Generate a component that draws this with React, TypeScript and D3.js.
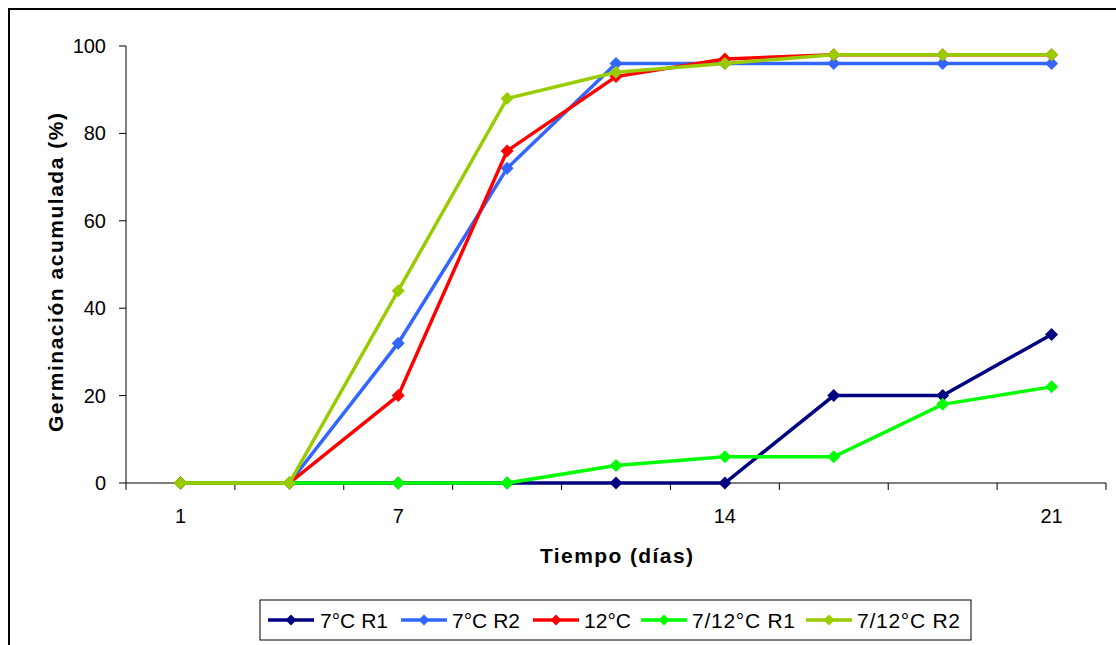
import React from "react";
import * as d3 from "d3";

const categories = ["1", "", "7", "", "", "14", "", "", "21"];
const r1_7 = [0, 0, 0, 0, 0, 0, 20, 20, 34];
const r2_7 = [0, 0, 32, 72, 96, 96, 96, 96, 96];
const c12 = [0, 0, 20, 76, 93, 97, 98, 98, 98];
const r1_712 = [0, 0, 0, 0, 4, 6, 6, 18, 22];
const r2_712 = [0, 0, 44, 88, 94, 96, 98, 98, 98];
const yTicks = [0, 20, 40, 60, 80, 100];

const seriesList = [
  { name: "7°C R1", values: r1_7, color: "#000080" },
  { name: "7°C R2", values: r2_7, color: "#3366FF" },
  { name: "12°C", values: c12, color: "#FF0000" },
  { name: "7/12°C R1", values: r1_712, color: "#00FF00" },
  { name: "7/12°C R2", values: r2_712, color: "#99CC00" },
];

const W = 1116, H = 645;
const left = 126, right = 1106, top = 46, bottom = 483;

export default function App() {
  const idx = categories.map((_, i) => i);
  const x = d3.scaleBand<number>().domain(idx).range([left, right]).paddingInner(0).paddingOuter(0);
  const cx = (i: number) => (x(i) as number) + x.bandwidth() / 2;
  const y = d3.scaleLinear().domain([0, 100]).range([bottom, top]);
  const line = d3.line<number>().x((_, i) => cx(i)).y((d) => y(d));
  const diamond = (px: number, py: number, s: number) =>
    `M${px},${py - s}L${px + s},${py}L${px},${py + s}L${px - s},${py}Z`;
  const font = "Arial, 'Liberation Sans', sans-serif";

  const boundaries = d3.range(categories.length + 1).map((i) =>
    i < categories.length ? (x(i) as number) : right
  );

  // legend layout
  const legX = 260, legY = 600, legW = 711, legH = 40;
  const legendItems = [
    { x: 268, tx: 320, tl: 68 },
    { x: 401, tx: 452, tl: 68 },
    { x: 533, tx: 584, tl: 47 },
    { x: 641, tx: 692, tl: 103 },
    { x: 806, tx: 857, tl: 103 },
  ];

  return (
    <svg width={W} height={H} style={{ position: "absolute", left: 0, top: 0, background: "#fff" }}>
      <rect x={0} y={0} width={W} height={H} fill="#fff" />
      <rect x={9} y={9} width={W + 20} height={H + 20} fill="none" stroke="#000" strokeWidth={2} />
      {/* axes */}
      <line x1={left} y1={top} x2={left} y2={bottom} stroke="#000" strokeWidth={1} />
      <line x1={left} y1={bottom} x2={right} y2={bottom} stroke="#000" strokeWidth={1} />
      {yTicks.map((t) => (
        <g key={t}>
          <line x1={left - 7} x2={left} y1={y(t)} y2={y(t)} stroke="#000" />
          <text x={106} y={y(t) + 7} textAnchor="end" fontFamily={font} fontSize={20}>
            {t}
          </text>
        </g>
      ))}
      {boundaries.map((b, i) => (
        <line key={i} x1={b} x2={b} y1={bottom} y2={bottom + 7} stroke="#000" />
      ))}
      {categories.map((c, i) =>
        c ? (
          <text key={i} x={cx(i)} y={523} textAnchor="middle" fontFamily={font} fontSize={20}>
            {c}
          </text>
        ) : null
      )}
      <text
        x={540}
        y={563}
        textLength={153}
        lengthAdjust="spacing"
        fontFamily={font}
        fontSize={21}
        fontWeight="bold"
      >
        Tiempo (días)
      </text>
      <text
        transform={`translate(63,432) rotate(-90)`}
        textLength={319}
        lengthAdjust="spacing"
        fontFamily={font}
        fontSize={21}
        fontWeight="bold"
      >
        Germinación acumulada (%)
      </text>
      {/* series */}
      {seriesList.map((s) => (
        <g key={s.name}>
          <path d={line(s.values) || ""} fill="none" stroke={s.color} strokeWidth={3.5} />
          {s.values.map((v, i) => (
            <path key={i} d={diamond(cx(i), y(v), 6.5)} fill={s.color} />
          ))}
        </g>
      ))}
      {/* legend */}
      <rect x={legX} y={legY} width={legW} height={legH} fill="#fff" stroke="#000" strokeWidth={1} />
      {seriesList.map((s, i) => {
        const it = legendItems[i];
        const ly = legY + legH / 2;
        return (
          <g key={s.name}>
            <line x1={it.x} x2={it.x + 46} y1={ly} y2={ly} stroke={s.color} strokeWidth={3.5} />
            <path d={diamond(it.x + 23, ly, 5.5)} fill={s.color} />
            <text
              x={it.tx}
              y={ly + 7.5}
              textLength={it.tl}
              lengthAdjust="spacing"
              fontFamily={font}
              fontSize={21}
            >
              {s.name}
            </text>
          </g>
        );
      })}
    </svg>
  );
}
